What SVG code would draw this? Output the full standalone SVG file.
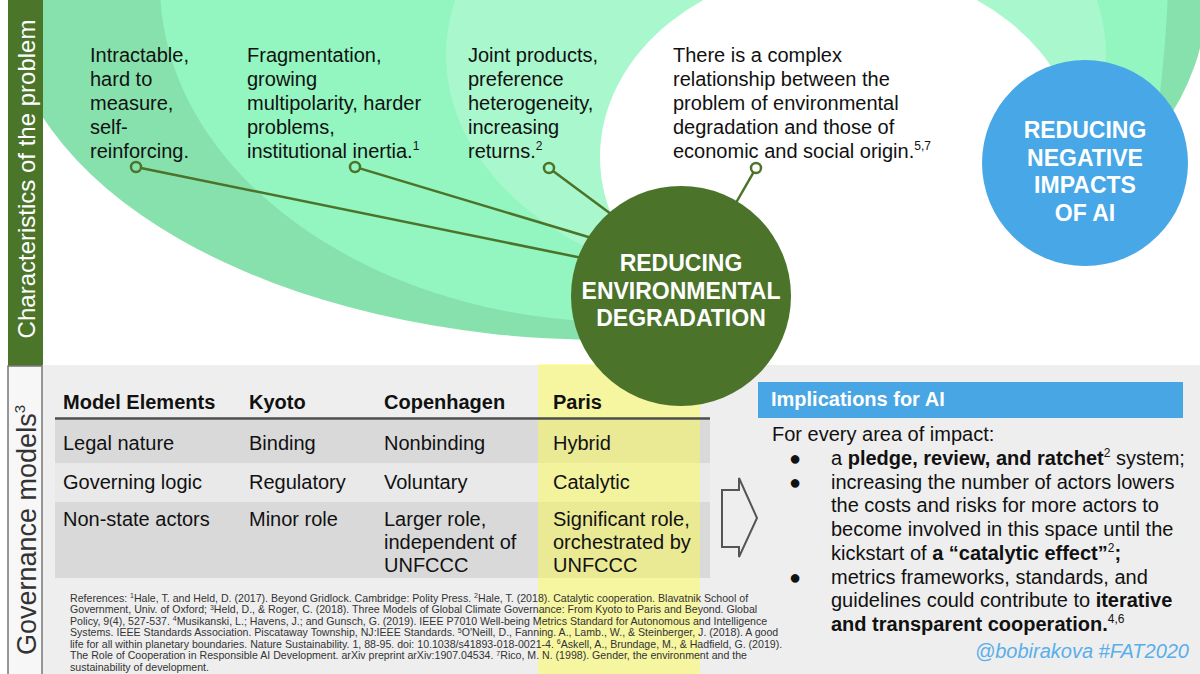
<svg xmlns="http://www.w3.org/2000/svg" width="1200" height="674" viewBox="0 0 1200 674">
<style>
text{font-family:"Liberation Sans",Arial,sans-serif}
.t20{font-size:20px;fill:#111}
.b{font-weight:bold}
.node{font-weight:bold;font-size:23px;fill:#fff;text-anchor:middle}
.ref{font-size:10.6px;fill:#333}
.conn{stroke:#4b7329;stroke-width:2.5;fill:none}
.dot{stroke:#4b7329;stroke-width:2.5;fill:none}
.bullet{font-size:20px;text-anchor:middle}
</style>
<rect x="0" y="0" width="1200" height="674" fill="#fff"/>
<g id="background">
<ellipse cx="606" cy="0" rx="600" ry="340" fill="#87e1ad"/>
<path d="M160,-10 C165,180 380,322 620,322 C800,322 950,290 1040,240 C1100,205 1150,140 1160,92 C1164,60 1167,20 1168,-10 Z" fill="#93f5c0"/>
<ellipse cx="776" cy="55" rx="330" ry="235" fill="#a9f7cd"/>
<ellipse cx="840" cy="157" rx="240" ry="191" fill="#fff"/>
<rect x="0" y="0" width="8" height="674" fill="#fff"/>
</g>
<g id="sidebar">
<rect x="8" y="0" width="35" height="366" fill="#4b7529"/>
<text transform="translate(35,179) rotate(-90)" text-anchor="middle" font-size="24" fill="#fff">Characteristics of the problem</text>
</g>
<g id="problem-texts" class="t20">
<text x="90" y="62">Intractable,</text>
<text x="90" y="86">hard to</text>
<text x="90" y="110">measure,</text>
<text x="90" y="134">self-</text>
<text x="90" y="158">reinforcing.</text>
<text x="247" y="62">Fragmentation,</text>
<text x="247" y="86">growing</text>
<text x="247" y="110">multipolarity, harder</text>
<text x="247" y="134">problems,</text>
<text x="247" y="158">institutional inertia.<tspan font-size="12" dy="-8">1</tspan></text>
<text x="468" y="62">Joint products,</text>
<text x="468" y="86">preference</text>
<text x="468" y="110">heterogeneity,</text>
<text x="468" y="134">increasing</text>
<text x="468" y="158">returns.<tspan font-size="12" dy="-8">2</tspan></text>
<text x="673" y="62">There is a complex</text>
<text x="673" y="86">relationship between the</text>
<text x="673" y="110">problem of environmental</text>
<text x="673" y="134">degradation and those of</text>
<text x="673" y="158">economic and social origin.<tspan font-size="12" dy="-8">5,7</tspan></text>
</g>
<g id="governance">
<rect x="42" y="365" width="1158" height="309" fill="#eeeeee"/>
<rect x="8" y="366" width="34" height="310" fill="#f7f7f7" stroke="#777" stroke-width="1.5"/>
<text transform="translate(36,655) rotate(-90)" font-size="27" fill="#333">Governance models<tspan font-size="15" dy="-11">3</tspan></text>
</g>
<g id="table">
<rect x="55" y="420" width="655" height="43" fill="#d9d9d9"/>
<rect x="55" y="463" width="655" height="39" fill="#e9e9e9"/>
<rect x="55" y="502" width="655" height="76" fill="#d9d9d9"/>
<rect x="538" y="364" width="162" height="310" fill="#fffc40" fill-opacity="0.45"/>
<line x1="55" y1="418.5" x2="710" y2="418.5" stroke="#4d4d4d" stroke-width="2.5"/>
<g class="t20 b">
<text x="63" y="409">Model Elements</text>
<text x="249" y="409">Kyoto</text>
<text x="384" y="409">Copenhagen</text>
<text x="553" y="409">Paris</text>
</g>
<g class="t20">
<text x="63" y="450">Legal nature</text>
<text x="249" y="450">Binding</text>
<text x="384" y="450">Nonbinding</text>
<text x="553" y="450">Hybrid</text>
<text x="63" y="489">Governing logic</text>
<text x="249" y="489">Regulatory</text>
<text x="384" y="489">Voluntary</text>
<text x="553" y="489">Catalytic</text>
<text x="63" y="526">Non-state actors</text>
<text x="249" y="526">Minor role</text>
<text x="384" y="526">Larger role,</text>
<text x="384" y="549">independent of</text>
<text x="384" y="572">UNFCCC</text>
<text x="553" y="526">Significant role,</text>
<text x="553" y="549">orchestrated by</text>
<text x="553" y="572">UNFCCC</text>
</g>
</g>
<g id="references" class="ref">
<text x="70" y="601.5">References: <tspan font-size="7" dy="-3.5">1</tspan><tspan dy="3.5">Hale, T. and Held, D. (2017). Beyond Gridlock. Cambridge: Polity Press. </tspan><tspan font-size="7" dy="-3.5">2</tspan><tspan dy="3.5">Hale, T. (2018). Catalytic cooperation.  Blavatnik School of</tspan></text>
<text x="70" y="613">Government, Univ. of Oxford; <tspan font-size="7" dy="-3.5">3</tspan><tspan dy="3.5">Held, D., &amp; Roger, C. (2018). Three Models of Global Climate Governance: From Kyoto to Paris and Beyond. Global</tspan></text>
<text x="70" y="624.5">Policy, 9(4), 527-537. <tspan font-size="7" dy="-3.5">4</tspan><tspan dy="3.5">Musikanski, L.; Havens, J.; and Gunsch, G. (2019). IEEE P7010 Well-being Metrics Standard for Autonomous and Intelligence</tspan></text>
<text x="70" y="636">Systems. IEEE Standards Association. Piscataway Township, NJ:IEEE Standards. <tspan font-size="7" dy="-3.5">5</tspan><tspan dy="3.5">O'Neill, D., Fanning. A., Lamb., W., &amp; Steinberger, J. (2018). A good</tspan></text>
<text x="70" y="647.5">life for all within planetary boundaries. Nature Sustainability. 1, 88-95. doi: 10.1038/s41893-018-0021-4. <tspan font-size="7" dy="-3.5">6</tspan><tspan dy="3.5">Askell, A., Brundage, M., &amp; Hadfield, G. (2019).</tspan></text>
<text x="70" y="659">The Role of Cooperation in Responsible AI Development. arXiv preprint arXiv:1907.04534. <tspan font-size="7" dy="-3.5">7</tspan><tspan dy="3.5">Rico, M. N. (1998). Gender, the environment and the</tspan></text>
<text x="70" y="670.5">sustainability of development.</text>
</g>
<g id="arrow">
<polygon points="722,490 739,490 739,478 757,518 739,557 739,547 722,547" fill="none" stroke="#555" stroke-width="2"/>
</g>
<g id="implications">
<rect x="758" y="382" width="425" height="36" fill="#48a6e5"/>
<text x="771" y="406" font-size="20" font-weight="bold" fill="#fff">Implications for AI</text>
<g class="t20">
<text x="772" y="441">For every area of impact:</text>
<text class="bullet" x="795" y="465">●</text>
<text class="bullet" x="795" y="488.7">●</text>
<text class="bullet" x="795" y="583.5">●</text>
<text x="831" y="465">a <tspan class="b">pledge, review, and ratchet</tspan><tspan font-size="12" dy="-8">2</tspan><tspan dy="8"> system;</tspan></text>
<text x="831" y="488.7">increasing the number of actors lowers</text>
<text x="831" y="512.4">the costs and risks for more actors to</text>
<text x="831" y="536.1">become involved in this space until the</text>
<text x="831" y="559.8">kickstart of <tspan class="b">a “catalytic effect”</tspan><tspan font-size="12" dy="-8">2</tspan><tspan class="b" dy="8">;</tspan></text>
<text x="831" y="583.5">metrics frameworks, standards, and</text>
<text x="831" y="607.2">guidelines could contribute to <tspan class="b">iterative</tspan></text>
<text x="831" y="630.9"><tspan class="b">and transparent cooperation.</tspan><tspan font-size="12" dy="-8">4,6</tspan></text>
</g>
<text x="1189" y="658" font-size="20" font-style="italic" fill="#5aaeea" text-anchor="end">@bobirakova #FAT2020</text>
</g>
<g id="connectors">
<circle class="dot" cx="136" cy="167" r="5"/>
<line class="conn" x1="140.9" y1="168" x2="592" y2="260"/>
<circle class="dot" cx="355" cy="167" r="5"/>
<line class="conn" x1="359.8" y1="168.4" x2="595" y2="239"/>
<circle class="dot" cx="549" cy="168" r="5"/>
<line class="conn" x1="553" y1="171" x2="615" y2="217"/>
<circle class="dot" cx="756" cy="168" r="5"/>
<line class="conn" x1="753.5" y1="172.4" x2="733" y2="208"/>
</g>
<g id="node-environment">
<circle cx="681" cy="296" r="110" fill="#4b7329"/>
<text class="node" x="681" y="271">REDUCING</text>
<text class="node" x="681" y="299">ENVIRONMENTAL</text>
<text class="node" x="681" y="326">DEGRADATION</text>
</g>
<g id="node-ai">
<circle cx="1085" cy="163" r="103" fill="#48a7e6"/>
<text class="node" x="1085" y="138">REDUCING</text>
<text class="node" x="1085" y="165.5">NEGATIVE</text>
<text class="node" x="1085" y="193">IMPACTS</text>
<text class="node" x="1085" y="220.5">OF AI</text>
</g>
</svg>
